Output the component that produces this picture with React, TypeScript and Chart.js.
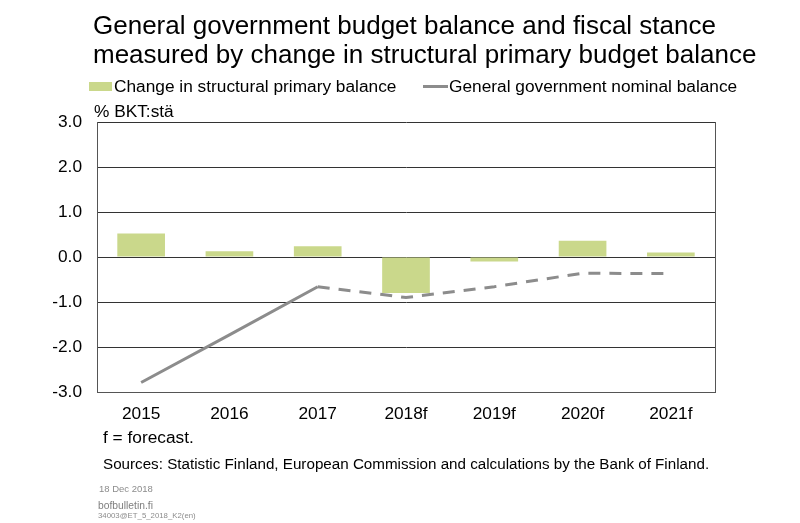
import React, { useEffect, useRef } from "react";
import Chart from "chart.js/auto";

const categories = ["2015", "2016", "2017", "2018f", "2019f", "2020f", "2021f"];
const structuralChange = [0.52, 0.13, 0.24, -0.8, -0.1, 0.36, 0.1];
const nominalBalance = [-2.79, -1.73, -0.66, -0.9, -0.66, -0.36, -0.37];
const yTicks = [-3, -2, -1, 0, 1, 2, 3];

const titleLines = [
  "General government budget balance and fiscal stance",
  "measured by change in structural primary budget balance",
];
const legendLabels = ["Change in structural primary balance", "General government nominal balance"];
const unitLabel = "% BKT:stä";
const noteLine = "f = forecast.";
const sourceLine = "Sources: Statistic Finland, European Commission and calculations by the Bank of Finland.";
const footerLines = ["18 Dec 2018", "bofbulletin.fi", "34003@ET_5_2018_K2(en)"];

const FONT = "'Liberation Sans', Arial, sans-serif";
const BAR_COLOR = "#cad88b";
const LINE_COLOR = "#8c8c8c";

const decor = {
  id: "decor",
  afterDraw(chart: any) {
    const ctx = chart.ctx as CanvasRenderingContext2D;
    const area = chart.chartArea;
    ctx.save();
    // frame right edge
    ctx.strokeStyle = "#555";
    ctx.lineWidth = 1;
    ctx.beginPath();
    ctx.moveTo(Math.round(area.right) + 0.5, area.top);
    ctx.lineTo(Math.round(area.right) + 0.5, area.bottom);
    ctx.stroke();

    ctx.textAlign = "left";
    ctx.textBaseline = "alphabetic";
    ctx.fillStyle = "#000";
    ctx.font = `26px ${FONT}`;
    ctx.fillText(titleLines[0], 93, 34);
    ctx.fillText(titleLines[1], 93, 63);

    // legend
    ctx.font = `17.3px ${FONT}`;
    ctx.fillStyle = BAR_COLOR;
    ctx.fillRect(89, 82, 23, 9);
    ctx.fillStyle = "#000";
    ctx.fillText(legendLabels[0], 114, 92);
    ctx.strokeStyle = LINE_COLOR;
    ctx.lineWidth = 3;
    ctx.beginPath();
    ctx.moveTo(423, 86.5);
    ctx.lineTo(448, 86.5);
    ctx.stroke();
    ctx.fillText(legendLabels[1], 449, 92);

    ctx.fillText(unitLabel, 94, 117);

    ctx.fillText(noteLine, 103, 443);
    ctx.font = `15.2px ${FONT}`;
    ctx.fillText(sourceLine, 103, 469);

    ctx.fillStyle = "#8c8c8c";
    ctx.font = `9.5px ${FONT}`;
    ctx.fillText(footerLines[0], 99, 492);
    ctx.fillStyle = "#7f7f7f";
    ctx.font = `10.3px ${FONT}`;
    ctx.fillText(footerLines[1], 98, 509);
    ctx.fillStyle = "#8c8c8c";
    ctx.font = `7.8px ${FONT}`;
    ctx.fillText(footerLines[2], 98, 518);
    ctx.restore();
  },
};

export default function App() {
  const ref = useRef<HTMLCanvasElement>(null);
  useEffect(() => {
    if (!ref.current) return;
    const chart = new Chart(ref.current, {
      type: "bar",
      data: {
        labels: categories,
        datasets: [
          {
            type: "line",
            label: legendLabels[1],
            data: nominalBalance,
            borderColor: LINE_COLOR,
            backgroundColor: LINE_COLOR,
            borderWidth: 3,
            pointRadius: 0,
            tension: 0,
            order: 0,
            segment: {
              borderDash: (c: any) => (c.p0DataIndex >= 2 ? [12, 9] : undefined),
            },
          } as any,
          {
            type: "bar",
            label: legendLabels[0],
            data: structuralChange,
            backgroundColor: BAR_COLOR,
            borderWidth: 0,
            barPercentage: 0.54,
            categoryPercentage: 1,
            order: 1,
          },
        ],
      },
      options: {
        responsive: false,
        animation: false,
        devicePixelRatio: 1,
        layout: { padding: { left: 0, right: 85, top: 122, bottom: 101 } },
        plugins: {
          legend: { display: false },
          title: { display: false },
          tooltip: { enabled: false },
        },
        scales: {
          x: {
            afterFit: (s: any) => {
              s.height = 30;
            },
            grid: { display: false, drawTicks: false },
            border: { display: true, color: "#555", width: 1 },
            ticks: { color: "#000", font: { family: FONT, size: 17.3 }, padding: 12, maxRotation: 0 },
          },
          y: {
            min: -3,
            max: 3,
            afterFit: (s: any) => {
              s.width = 97;
            },
            afterBuildTicks: (s: any) => {
              s.ticks = yTicks.map((v) => ({ value: v }));
            },
            grid: { color: "#333", lineWidth: 1, drawTicks: false },
            border: { display: true, color: "#555", width: 1 },
            ticks: {
              color: "#000",
              font: { family: FONT, size: 17.3 },
              padding: 15,
              callback: (v: any) => Number(v).toFixed(1),
            },
          },
        },
      },
      plugins: [decor],
    });
    return () => chart.destroy();
  }, []);
  return (
    <div style={{ position: "absolute", left: 0, top: 0, width: 800, height: 523, background: "#fff" }}>
      <canvas ref={ref} width={800} height={523} style={{ width: 800, height: 523, display: "block" }} />
    </div>
  );
}
